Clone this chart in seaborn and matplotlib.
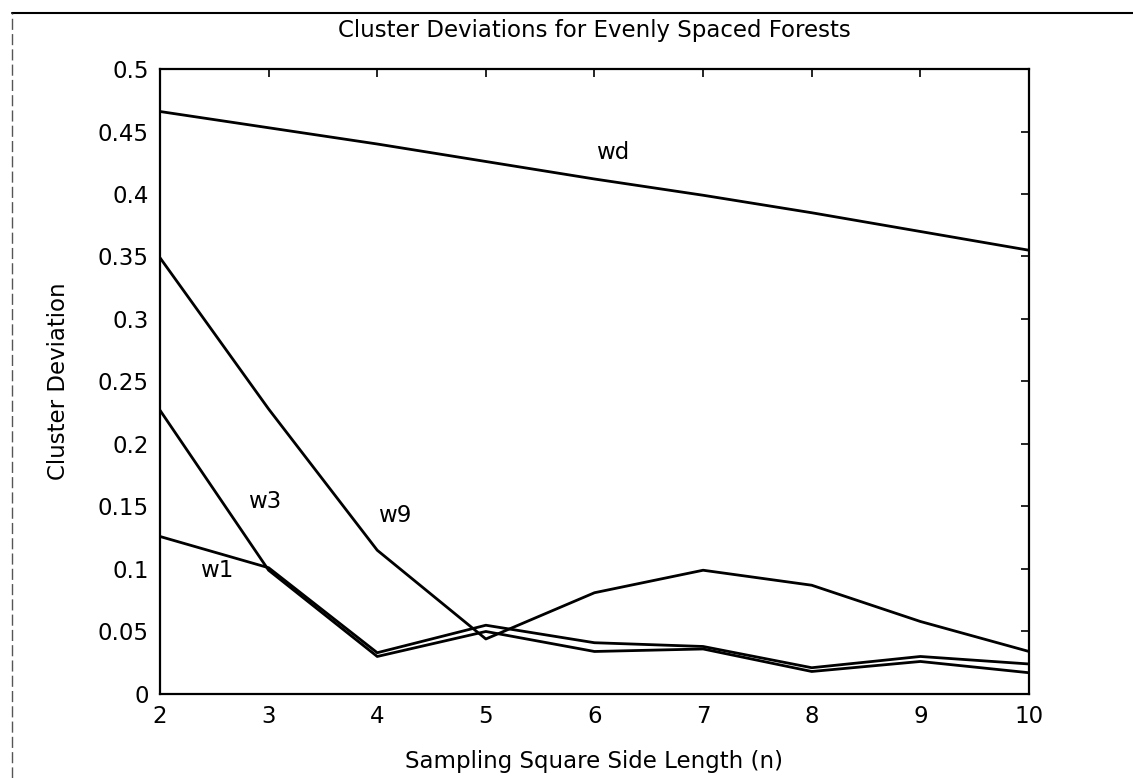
import matplotlib
matplotlib.use("Agg")
import matplotlib.pyplot as plt
import seaborn as sns
import pandas as pd
from matplotlib.lines import Line2D

# ---- data ----
n_values = [2, 3, 4, 5, 6, 7, 8, 9, 10]
wd = [0.466, 0.453, 0.440, 0.426, 0.412, 0.399, 0.385, 0.370, 0.355]
w9 = [0.349, 0.228, 0.115, 0.044, 0.081, 0.099, 0.087, 0.058, 0.034]
w3 = [0.227, 0.099, 0.030, 0.050, 0.034, 0.036, 0.018, 0.026, 0.017]
w1 = [0.126, 0.101, 0.033, 0.055, 0.041, 0.038, 0.021, 0.030, 0.024]
series = {"wd": wd, "w9": w9, "w3": w3, "w1": w1}
label_pos = {"wd": (6.17, 0.433), "w9": (4.16, 0.143), "w3": (2.96, 0.154), "w1": (2.52, 0.099)}
x_ticks = [2, 3, 4, 5, 6, 7, 8, 9, 10]
y_ticks = [0, 0.05, 0.1, 0.15, 0.2, 0.25, 0.3, 0.35, 0.4, 0.45, 0.5]
y_tick_labels = ["0", "0.05", "0.1", "0.15", "0.2", "0.25", "0.3", "0.35", "0.4", "0.45", "0.5"]

sns.set_style("white")
plt.rcParams["font.family"] = ["DejaVu Sans"]
plt.rcParams["text.color"] = "black"
plt.rcParams["axes.labelcolor"] = "black"
FS = 16.5

rows = []
for name, vals in series.items():
    for n, v in zip(n_values, vals):
        rows.append({"n": n, "dev": v, "series": name})
df = pd.DataFrame(rows)

fig = plt.figure(figsize=(11.33, 7.78), dpi=100)
ax = fig.add_axes([0.1412, 0.108, 0.7670, 0.8033])

for name in series:
    sns.lineplot(data=df[df["series"] == name], x="n", y="dev", color="black",
                 linewidth=2.0, ax=ax, legend=False, errorbar=None)

for name, (lx, ly) in label_pos.items():
    ax.text(lx, ly, name, fontsize=FS, ha="center", va="center", color="black")

ax.set_xlim(2, 10)
ax.set_ylim(0, 0.5)
ax.set_xticks(x_ticks)
ax.set_xticklabels([str(t) for t in x_ticks])
ax.set_yticks(y_ticks)
ax.set_yticklabels(y_tick_labels)
ax.tick_params(direction="in", length=6, width=1.2, top=True, right=True,
               labelsize=FS, colors="black", pad=8)
for s in ax.spines.values():
    s.set_visible(True)
    s.set_color("black")
    s.set_linewidth(1.6)

ax.set_title("Cluster Deviations for Evenly Spaced Forests", fontsize=FS, pad=23, color="black")
ax.set_xlabel("Sampling Square Side Length (n)", fontsize=FS, labelpad=16, color="black")
ax.set_ylabel("Cluster Deviation", fontsize=FS, labelpad=20, color="black")

# scanned page border
fig.add_artist(Line2D([0.011, 1.0], [0.983, 0.983], transform=fig.transFigure,
                      color="black", linewidth=1.5))
fig.add_artist(Line2D([0.011, 0.011], [0.0, 0.983], transform=fig.transFigure,
                      color="#555555", linewidth=1.0, linestyle=(0, (8, 3))))

fig.savefig("out.png", dpi=100)
